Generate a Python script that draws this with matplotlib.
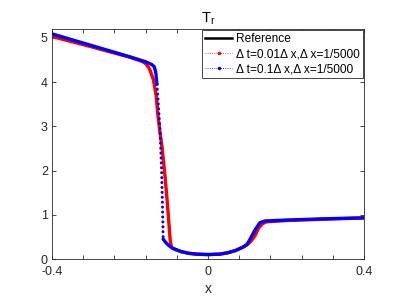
import numpy as np
import matplotlib.pyplot as plt
from matplotlib.lines import Line2D

plt.rcParams["font.family"] = ["Liberation Sans", "DejaVu Sans"]
plt.rcParams["mathtext.fontset"] = "custom"
plt.rcParams["mathtext.rm"] = "Liberation Sans"

# values
x_ref = [-0.4, -0.3, -0.2, -0.17, -0.16, -0.15, -0.14, -0.133, -0.128, -0.123,
         -0.118, -0.11, -0.105, -0.1, -0.097, -0.094, -0.09, -0.07, -0.05, -0.03,
         0.0, 0.03, 0.05, 0.07, 0.09, 0.1, 0.11, 0.12, 0.13, 0.14, 0.15, 0.2,
         0.3, 0.4]
y_ref = [5.03, 4.80, 4.56, 4.47, 4.42, 4.30, 4.05, 3.70, 3.21, 2.85,
         2.54, 1.85, 1.34, 0.80, 0.44, 0.28, 0.24, 0.17, 0.13, 0.11,
         0.10, 0.11, 0.14, 0.19, 0.27, 0.33, 0.41, 0.53, 0.71, 0.81, 0.84, 0.87,
         0.90, 0.93]

x_fine = x_ref
y_fine = [5.03, 4.80, 4.56, 4.47, 4.42, 4.30, 4.05, 3.70, 3.21, 2.85,
          2.54, 1.85, 1.34, 0.78, 0.42, 0.28, 0.24, 0.17, 0.13, 0.11,
          0.10, 0.11, 0.14, 0.19, 0.27, 0.32, 0.40, 0.52, 0.70, 0.80, 0.84, 0.87,
          0.90, 0.93]

x_coarse = [-0.4, -0.3, -0.2, -0.16, -0.145, -0.138, -0.134, -0.131, -0.129, -0.126,
            -0.123, -0.119, -0.116, -0.115, -0.108, -0.1, -0.09, -0.07, -0.05, -0.03,
            0.0, 0.03, 0.05, 0.07, 0.09, 0.1, 0.108, 0.12, 0.133, 0.146, 0.2, 0.3,
            0.4]
y_coarse = [5.09, 4.83, 4.57, 4.46, 4.40, 4.35, 4.22, 3.95, 3.70, 3.30,
            2.90, 2.00, 0.90, 0.45, 0.37, 0.30, 0.24, 0.17, 0.13, 0.11,
            0.10, 0.11, 0.14, 0.19, 0.27, 0.33, 0.45, 0.65, 0.82, 0.86, 0.88, 0.91,
            0.93]

labels = ["Reference",
          "\u0394 t=0.01\u0394 x,\u0394 x=1/5000",
          "\u0394 t=0.1\u0394 x,\u0394 x=1/5000"]

axcol = "#262626"

fig = plt.figure(figsize=(4.02, 3.01), dpi=100)
ax = fig.add_axes([0.1294, 0.1395, 0.7761, 0.7642])

ax.plot(x_ref, y_ref, color="black", lw=1.5)
ax.plot(x_fine, y_fine, color="red", lw=2.4, solid_capstyle="round")

# coarse run: grid points are dense (solid look) except across the jump
i0, i1 = 7, 13
ax.plot(x_coarse[:i0 + 1], y_coarse[:i0 + 1], color="blue", lw=2.4,
        solid_capstyle="round")
ax.plot(x_coarse[i0:i1 + 1], y_coarse[i0:i1 + 1], color="blue", lw=2.2,
        ls=(0, (0.01, 1.6)), dash_capstyle="round")
ax.plot(x_coarse[i1:], y_coarse[i1:], color="blue", lw=2.4,
        solid_capstyle="round")

ax.set_xlim(-0.4, 0.4)
ax.set_ylim(0, 5.2)
ax.set_xticks(np.linspace(-0.4, 0.4, 11))
ax.set_xticklabels(["-0.4", "", "", "", "", "0", "", "", "", "", "0.4"])
ax.set_yticks([0, 1, 2, 3, 4, 5])
ax.tick_params(direction="in", length=3, width=0.6, colors=axcol,
               labelsize=9, top=True, right=True)
ax.tick_params(axis="x", pad=5)
ax.tick_params(axis="y", pad=3)
for s in ax.spines.values():
    s.set_color(axcol)
    s.set_linewidth(0.6)

ax.set_title("T$_\\mathrm{r}$", fontsize=10.5, color="black", pad=5)
ax.set_xlabel("x", fontsize=10, color=axcol, labelpad=3)

handles = [Line2D([], [], color="black", lw=1.8),
           Line2D([], [], color="red", lw=0.6, ls=":", marker=".", markersize=3),
           Line2D([], [], color="blue", lw=0.6, ls=":", marker=".", markersize=3)]
leg = ax.legend(handles, labels, loc="upper right", fontsize=8.6, fancybox=False,
                framealpha=1, edgecolor=axcol, borderaxespad=0.1, handlelength=2.3,
                handletextpad=0.3, borderpad=0.25, labelspacing=0.25)
leg.get_frame().set_linewidth(0.6)

fig.savefig("out.png", dpi=100)
